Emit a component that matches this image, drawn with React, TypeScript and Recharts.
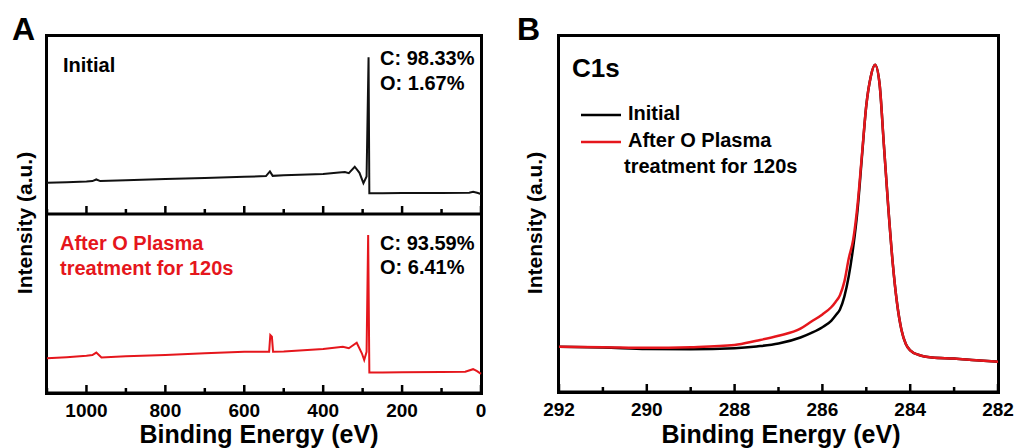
import React from 'react';
import { LineChart, Line, XAxis, YAxis } from 'recharts';

const FONT = '"Liberation Sans", Arial, Helvetica, sans-serif';
const RED = '#e5161c';

// survey spectrum, initial sample (binding energy in eV, intensity a.u.)
const initialEnergy = [1100, 1050, 1000, 985, 975, 965, 900, 800, 700, 600, 545, 535, 528, 500, 400, 360, 345, 335, 320, 308, 298, 290, 285, 283, 250, 200, 100, 30, 20, 10, 0];
const initialCounts = [17.5, 17.8, 18.2, 18.4, 19.3, 18.4, 18.8, 19.5, 20.1, 20.8, 21.2, 23.8, 21.3, 21.6, 22.3, 23.2, 23.5, 22.8, 26.4, 23.0, 17.2, 21.0, 87.5, 11.6, 11.6, 11.7, 11.8, 11.9, 12.4, 11.9, 11.2];

// survey spectrum, after O plasma 120 s
const plasmaEnergy = [1100, 1050, 1000, 985, 975, 962, 900, 800, 700, 600, 537, 534, 530, 527, 500, 400, 350, 335, 315, 302, 296, 290, 286, 283, 250, 200, 100, 40, 20, 10, 0];
const plasmaCounts = [19.4, 20.0, 20.8, 21.2, 22.6, 19.9, 20.5, 21.2, 22.2, 23.1, 23.1, 32.4, 31.5, 23.0, 23.2, 24.6, 25.8, 25.0, 28.1, 22.2, 18.4, 23.0, 88.3, 11.4, 11.5, 11.6, 11.7, 11.9, 13.3, 12.2, 10.7];

const surveyTicks = [0, 100, 200, 300, 400, 500, 600, 700, 800, 900, 1000, 1100];
const surveyLabels = [0, 200, 400, 600, 800, 1000];

// C1s high resolution
const c1sEnergy = [292, 291, 290, 289, 288, 287.5, 287, 286.5, 286.25, 286, 285.8, 285.7, 285.6, 285.5, 285.4, 285.3, 285.2, 285.1, 285.0, 284.9, 284.8, 284.7, 284.6, 284.5, 284.4, 284.3, 284.2, 284.1, 284.0, 283.8, 283.5, 283, 282.5, 282];
const c1sInitial = [12.7, 12.5, 12.1, 12.0, 12.3, 12.8, 13.6, 15.3, 16.6, 18.2, 20.0, 21.5, 23.2, 26.8, 32.5, 40.5, 51.0, 66.0, 80.5, 88.5, 91.9, 86.8, 69.5, 52, 36.5, 25, 17.5, 13.5, 11.7, 10.4, 9.7, 9.4, 8.9, 8.5];
const c1sPlasma = [12.7, 12.6, 12.4, 12.6, 13.2, 14.4, 15.8, 17.8, 19.8, 21.8, 23.8, 25.3, 27.2, 31.0, 37.5, 42.7, 52.5, 66.5, 80.5, 88.5, 91.9, 86.8, 69.5, 52, 36.5, 25, 17.5, 13.5, 11.7, 10.4, 9.7, 9.4, 8.9, 8.5];

const c1sTicks = [282, 283, 284, 285, 286, 287, 288, 289, 290, 291, 292];
const c1sLabels = [282, 284, 286, 288, 290, 292];

const initialRows = initialEnergy.map((e, i) => ({ energy: e, counts: initialCounts[i] }));
const plasmaRows = plasmaEnergy.map((e, i) => ({ energy: e, counts: plasmaCounts[i] }));
const c1sRows = c1sEnergy.map((e, i) => ({ energy: e, initial: c1sInitial[i], plasma: c1sPlasma[i] }));

// inward tick marks, labels only on the major ones
function makeTick(labels: number[], showLabels: boolean) {
  return (props: any) => {
    const { x, y, payload } = props;
    const major = labels.includes(payload.value);
    return (
      <g>
        <line x1={x} x2={x} y1={y} y2={y - (major ? 8 : 5)} stroke="#000" strokeWidth={2.5} />
        {showLabels && major && (
          <text x={x} y={y + 24} textAnchor="middle" fontFamily={FONT} fontWeight="bold" fontSize={19} fill="#000">
            {payload.value}
          </text>
        )}
      </g>
    );
  };
}

const frame = { stroke: '#000', strokeWidth: 3 };
const bold = { fontFamily: FONT, fontWeight: 'bold' as const, fill: '#000' };
const abs = (left: number, top: number) => ({ position: 'absolute' as const, left, top });
const box = (left: number, top: number, width: number, height: number) => ({
  position: 'absolute' as const, left, top, width, height, boxSizing: 'border-box' as const, border: '3px solid #000',
});

export default function App() {
  return (
    <div style={{ position: 'absolute', left: 0, top: 0, width: 1015, height: 448, background: '#fff', overflow: 'hidden' }}>
      {/* panel frames */}
      <div style={box(45, 34, 438, 361)} />
      <div style={box(557, 34, 443, 360)} />

      <div style={abs(0, 210)}>
        <LineChart width={500} height={238} data={plasmaRows} margin={{ top: 4, right: 19, bottom: 0, left: 47 }}>
          <XAxis dataKey="energy" type="number" domain={[0, 1100]} reversed ticks={surveyTicks} interval={0}
            tick={makeTick(surveyLabels, true)} tickLine={false} axisLine={frame} height={55} tickSize={0} tickMargin={0} />
          <YAxis type="number" domain={[0, 100]} hide />
          <Line dataKey="counts" type="linear" stroke={RED} strokeWidth={2} dot={false} isAnimationActive={false} />
        </LineChart>
      </div>
      <div style={abs(0, 0)}>
        <LineChart width={500} height={220} data={initialRows} margin={{ top: 35, right: 19, bottom: 5, left: 47 }}>
          <XAxis dataKey="energy" type="number" domain={[0, 1100]} reversed ticks={surveyTicks} interval={0}
            tick={makeTick(surveyLabels, false)} tickLine={false} axisLine={frame} height={1} tickSize={0} tickMargin={0} />
          <YAxis type="number" domain={[0, 100]} hide />
          <Line dataKey="counts" type="linear" stroke="#111" strokeWidth={2} dot={false} isAnimationActive={false} />
        </LineChart>
      </div>
      <div style={abs(500, 0)}>
        <LineChart width={515} height={448} data={c1sRows} margin={{ top: 36, right: 17, bottom: 0, left: 59 }}>
          <XAxis dataKey="energy" type="number" domain={[282, 292]} reversed ticks={c1sTicks} interval={0}
            tick={makeTick(c1sLabels, true)} tickLine={false} axisLine={frame} height={56} tickSize={0} tickMargin={0} />
          <YAxis type="number" domain={[0, 100]} hide />
          <Line dataKey="initial" type="monotone" stroke="#000" strokeWidth={2.5} dot={false} isAnimationActive={false} />
          <Line dataKey="plasma" type="monotone" stroke={RED} strokeWidth={2.5} dot={false} isAnimationActive={false} />
        </LineChart>
      </div>

      <svg width={1015} height={448} style={{ position: 'absolute', left: 0, top: 0, pointerEvents: 'none' }}>
        <text x={12} y={40} fontSize={32} {...bold}>A</text>
        <text x={517} y={40} fontSize={32} {...bold}>B</text>

        <text x={63} y={72} fontSize={20} {...bold}>Initial</text>
        <text x={380} y={65} fontSize={20} {...bold}>C: 98.33%</text>
        <text x={380} y={90} fontSize={20} {...bold}>O: 1.67%</text>

        <text x={60} y={250} fontSize={20} {...bold} fill={RED}>After O Plasma</text>
        <text x={60} y={275} fontSize={20} {...bold} fill={RED}>treatment for 120s</text>
        <text x={380} y={250} fontSize={20} {...bold}>C: 93.59%</text>
        <text x={380} y={274} fontSize={20} {...bold}>O: 6.41%</text>

        <text x={259} y={443} fontSize={25} textAnchor="middle" {...bold}>Binding Energy (eV)</text>
        <text x={781} y={443} fontSize={25} textAnchor="middle" {...bold}>Binding Energy (eV)</text>
        <text transform="translate(32,223) rotate(-90)" fontSize={21} textAnchor="middle" {...bold}>Intensity (a.u.)</text>
        <text transform="translate(542,223) rotate(-90)" fontSize={21} textAnchor="middle" {...bold}>Intensity (a.u.)</text>

        <text x={572} y={77} fontSize={26} {...bold}>C1s</text>
        <line x1={581} x2={621} y1={115} y2={115} stroke="#000" strokeWidth={2.5} />
        <text x={628} y={120} fontSize={20} {...bold}>Initial</text>
        <line x1={581} x2={621} y1={142} y2={142} stroke={RED} strokeWidth={2.5} />
        <text x={628} y={147} fontSize={20} {...bold}>After O Plasma</text>
        <text x={624} y={173} fontSize={20} {...bold}>treatment for 120s</text>
      </svg>
    </div>
  );
}
